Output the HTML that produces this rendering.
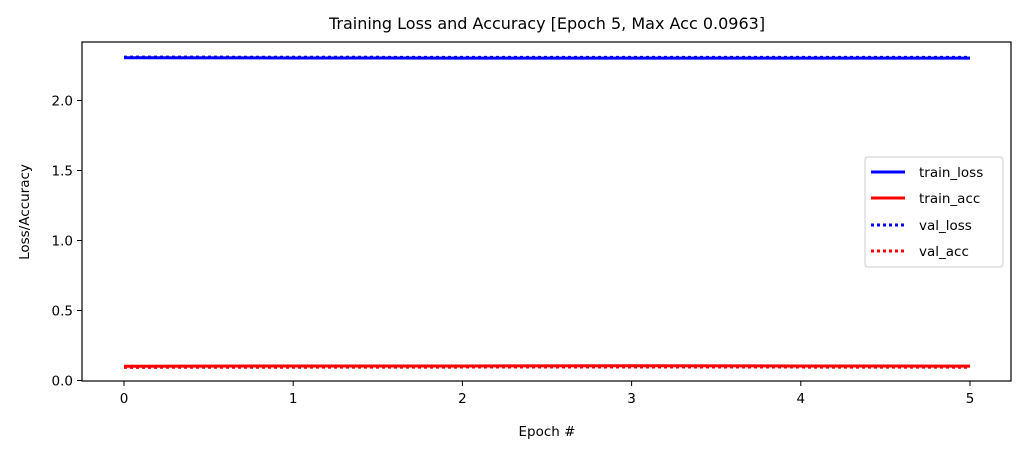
<!DOCTYPE html>
<html><head><meta charset="utf-8"><style>
body{margin:0;background:#fff;font-family:"Liberation Sans","DejaVu Sans",sans-serif;}
svg text{font-family:"DejaVu Sans","Liberation Sans",sans-serif;}
</style></head><body>
<svg id="chart" width="1027" height="456" xmlns="http://www.w3.org/2000/svg">
<rect width="1027" height="456" fill="#fff"/>
<text x="547" y="29" font-size="16" text-anchor="middle">Training Loss and Accuracy [Epoch 5, Max Acc 0.0963]</text>
<g id="plot"></g>
<rect x="82" y="42" width="929" height="339" fill="none" stroke="#000" stroke-width="1.2"/>
<text x="547" y="436" font-size="13.5" text-anchor="middle">Epoch #</text>
<text transform="translate(29,212) rotate(-90)" font-size="13.5" text-anchor="middle">Loss/Accuracy</text>
<g>
<rect x="865" y="157" width="138" height="110" rx="3" fill="#fff" stroke="#ccc"/>
<line x1="871" y1="172" x2="905" y2="172" stroke="#00f" stroke-width="3"/>
<text x="919" y="177" font-size="13.5">train_loss</text>
<line x1="871" y1="198" x2="905" y2="198" stroke="#f00" stroke-width="3"/>
<text x="919" y="203" font-size="13.5">train_acc</text>
<line x1="871" y1="225" x2="905" y2="225" stroke="#00f" stroke-width="3" stroke-dasharray="3,3"/>
<text x="919" y="230" font-size="13.5">val_loss</text>
<line x1="871" y1="251" x2="905" y2="251" stroke="#f00" stroke-width="3" stroke-dasharray="3,3"/>
<text x="919" y="256" font-size="13.5">val_acc</text>
</g>
</svg>
<script>
const epochs=[0,1,2,3,4,5];
const trainLoss=[2.305,2.304,2.303,2.303,2.303,2.303];
const valLoss=[2.31,2.309,2.308,2.308,2.308,2.308];
const trainAcc=[0.102,0.104,0.104,0.105,0.104,0.103];
const valAcc=[0.094,0.095,0.096,0.0963,0.096,0.095];
const xTicks=[0,1,2,3,4,5];
const yTicks=[0,0.5,1.0,1.5,2.0];
const NS="http://www.w3.org/2000/svg";
const g=document.getElementById('plot');
function xs(v){return 124+v*169.2;}
function ys(v){return 380.5-v*140;}
function mk(t,a){const e=document.createElementNS(NS,t);for(const k in a)e.setAttribute(k,a[k]);g.appendChild(e);return e;}
xTicks.forEach(t=>{
 const l=mk('line',{x1:xs(t),x2:xs(t),y1:381,y2:386,stroke:'#000'});
 
 
 const tx=mk('text',{x:xs(t),y:403,'font-size':13.5,'text-anchor':'middle'});tx.textContent=t;
 
 
});
yTicks.forEach(t=>{
 const l=mk('line',{x1:77,x2:82,y1:ys(t),y2:ys(t),stroke:'#000'});
 
 
 const tx=mk('text',{x:73,y:ys(t)+5,'font-size':13.5,'text-anchor':'end'});tx.textContent=t.toFixed(1);
 
 
});
function series(d,color,dash,name){
 const p=mk('polyline',{points:d.map((v,i)=>xs(epochs[i])+','+ys(v)).join(' '),fill:'none',stroke:color,'stroke-width':3});
 if(dash)p.setAttribute('stroke-dasharray','3,3');
 
 
}
series(valLoss,'#00f',true,'val-loss-line');
series(trainLoss,'#00f',false,'train-loss-line');
series(valAcc,'#f00',true,'val-acc-line');
series(trainAcc,'#f00',false,'train-acc-line');
</script>
</body></html>
